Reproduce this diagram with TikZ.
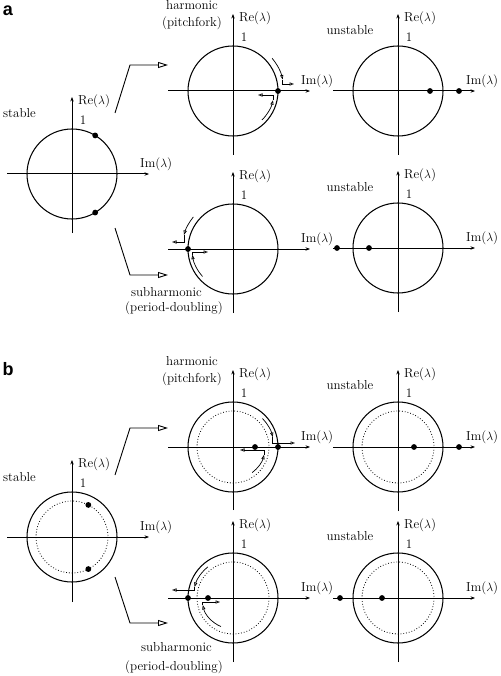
\documentclass[tikz,border=0pt]{standalone}
\usepackage{fontspec}
\newfontfamily\panelfont{Liberation Sans}
\usetikzlibrary{arrows.meta}
\tikzset{
  ln/.style={line width=1.05pt},
  axisln/.style={line width=1pt,-{Stealth[length=4.5pt,width=3.4pt]}},
  dotcirc/.style={line width=0.8pt,dotted},
  lbl/.style={font=\fontsize{13}{17}\selectfont,inner sep=0pt},
  panel/.style={font=\panelfont\bfseries\fontsize{18}{18}\selectfont,inner sep=0pt},
  conn/.style={line width=0.9pt,-{Triangle[open,length=10pt,width=6pt]}},
  sarr/.style={line width=0.7pt,-{Triangle[open,length=4.5pt,width=3.2pt]}},
  eig/.style={fill=black},
}
% #1 name, #2 cx, #3 cy, #4 dotted inner circle (1/0), #5 lower end of vertical axis
\newcommand\eplot[5]{%
  \begin{scope}[shift={(#2,#3)}]
    \draw[ln] (0,0) circle[radius=45];
    \ifnum#4=1 \draw[dotcirc] (0,0) circle[radius=36];\fi
    \draw[axisln] (-65,0) -- (77,0);
    \draw[axisln] (0,#5) -- (0,-77);
    \node[lbl,anchor=west] (#1re) at (6,-73) {Re($\lambda$)};
    \node[lbl] (#1one) at (11,-53.5) {1};
    \node[lbl,anchor=west] (#1im) at (68,-10) {Im($\lambda$)};
  \end{scope}}
\begin{document}
\begin{tikzpicture}[x=1pt,y=-1pt]
\useasboundingbox (0,0) rectangle (500,676);

% ================= panel a =================
\node[panel] (pa) at (8,11) {a};
\eplot{aS}{72}{174}{0}{59}
\eplot{aH}{233}{91}{0}{64}
\eplot{aP}{233}{249}{0}{64}
\eplot{aU}{398}{91}{0}{64}
\eplot{aV}{398}{248}{0}{64}

\node[lbl,anchor=west] (aSt) at (3,113) {stable};
\node[lbl,align=center] (aHt) at (192,15.5) {harmonic\\(pitchfork)};
\node[lbl] (aPt1) at (166.5,292) {subharmonic};
\node[lbl] (aPt2) at (174,308) {(period-doubling)};
\node[lbl] (aUt) at (350,30) {unstable};
\node[lbl] (aVt) at (350,187) {unstable};

\begin{scope}[shift={(72,174)}]
  \fill[eig] (-59:45) circle[radius=2.9];
  \fill[eig] (59:45) circle[radius=2.9];
\end{scope}
\begin{scope}[shift={(233,91)}]
  \fill[eig] (45,0) circle[radius=2.9];
  \draw[sarr] (-40:51) arc[start angle=-40,end angle=-13,radius=51];
  \draw[sarr] (-13:51) |- (61,-7);
  \draw[sarr] (45:41) arc[start angle=45,end angle=13,radius=41];
  \draw[sarr] (13:41) |- (25,4);
\end{scope}
\begin{scope}[shift={(233,249)}]
  \fill[eig] (-45,0) circle[radius=2.9];
  \draw[sarr] (-141:51) arc[start angle=-141,end angle=-164,radius=51];
  \draw[sarr] (-164:51) |- (-61,-7);
  \draw[sarr] (138:41) arc[start angle=138,end angle=172,radius=41];
  \draw[sarr] (172:41) |- (-25,3);
\end{scope}
\begin{scope}[shift={(398,91)}]
  \fill[eig] (32,0) circle[radius=2.9];
  \fill[eig] (61,0) circle[radius=2.9];
\end{scope}
\begin{scope}[shift={(398,248)}]
  \fill[eig] (-61,0) circle[radius=2.9];
  \fill[eig] (-29,0) circle[radius=2.9];
\end{scope}

\coordinate (aS1) at (115,113);
\coordinate (aH1) at (168,65);
\coordinate (aS2) at (115,228);
\coordinate (aP1) at (168,275);
\draw[conn] (aS1) -- (130,65) -- (aH1);
\draw[conn] (aS2) -- (130,275) -- (aP1);

% ================= panel b =================
\node[panel] (pb) at (8,369) {b};
\eplot{bS}{72}{537}{1}{65}
\eplot{bH}{233}{447}{1}{63}
\eplot{bP}{233}{598}{1}{64}
\eplot{bU}{398}{447}{1}{64}
\eplot{bV}{398}{598}{1}{64}

\node[lbl,anchor=west] (bSt) at (3,477) {stable};
\node[lbl,align=center] (bHt) at (192,371.5) {harmonic\\(pitchfork)};
\node[lbl] (bPt1) at (176.5,647) {subharmonic};
\node[lbl] (bPt2) at (174,667) {(period-doubling)};
\node[lbl] (bUt) at (350,385) {unstable};
\node[lbl] (bVt) at (350,536) {unstable};

\begin{scope}[shift={(72,537)}]
  \fill[eig] (-63:36) circle[radius=2.9];
  \fill[eig] (63:36) circle[radius=2.9];
\end{scope}
\begin{scope}[shift={(233,447)}]
  \fill[eig] (22,0) circle[radius=2.9];
  \fill[eig] (45,0) circle[radius=2.9];
  \draw[sarr] (-44:41) arc[start angle=-44,end angle=-14,radius=41];
  \draw[sarr] (-14:41) |- (62,-4);
  \draw[sarr] (53:32) arc[start angle=53,end angle=14,radius=32];
  \draw[sarr] (14:32) |- (7,3);
\end{scope}
\begin{scope}[shift={(233,598)}]
  \fill[eig] (-45,0) circle[radius=2.9];
  \fill[eig] (-25,0) circle[radius=2.9];
  \draw[sarr] (-129:40) arc[start angle=-129,end angle=-164,radius=40];
  \draw[sarr] (-164:40) |- (-61,-8);
  \draw[sarr] (113:31) arc[start angle=113,end angle=167,radius=31];
  \draw[sarr] (167:31) |- (-13,4);
\end{scope}
\begin{scope}[shift={(398,447)}]
  \fill[eig] (16,0) circle[radius=2.9];
  \fill[eig] (61,0) circle[radius=2.9];
\end{scope}
\begin{scope}[shift={(398,598)}]
  \fill[eig] (-58,0) circle[radius=2.9];
  \fill[eig] (-16,0) circle[radius=2.9];
\end{scope}

\coordinate (bS1) at (115,475);
\coordinate (bH1) at (168,428);
\coordinate (bS2) at (115,577);
\coordinate (bP1) at (168,623);
\draw[conn] (bS1) -- (130,428) -- (bH1);
\draw[conn] (bS2) -- (130,623) -- (bP1);
\end{tikzpicture}
\end{document}
